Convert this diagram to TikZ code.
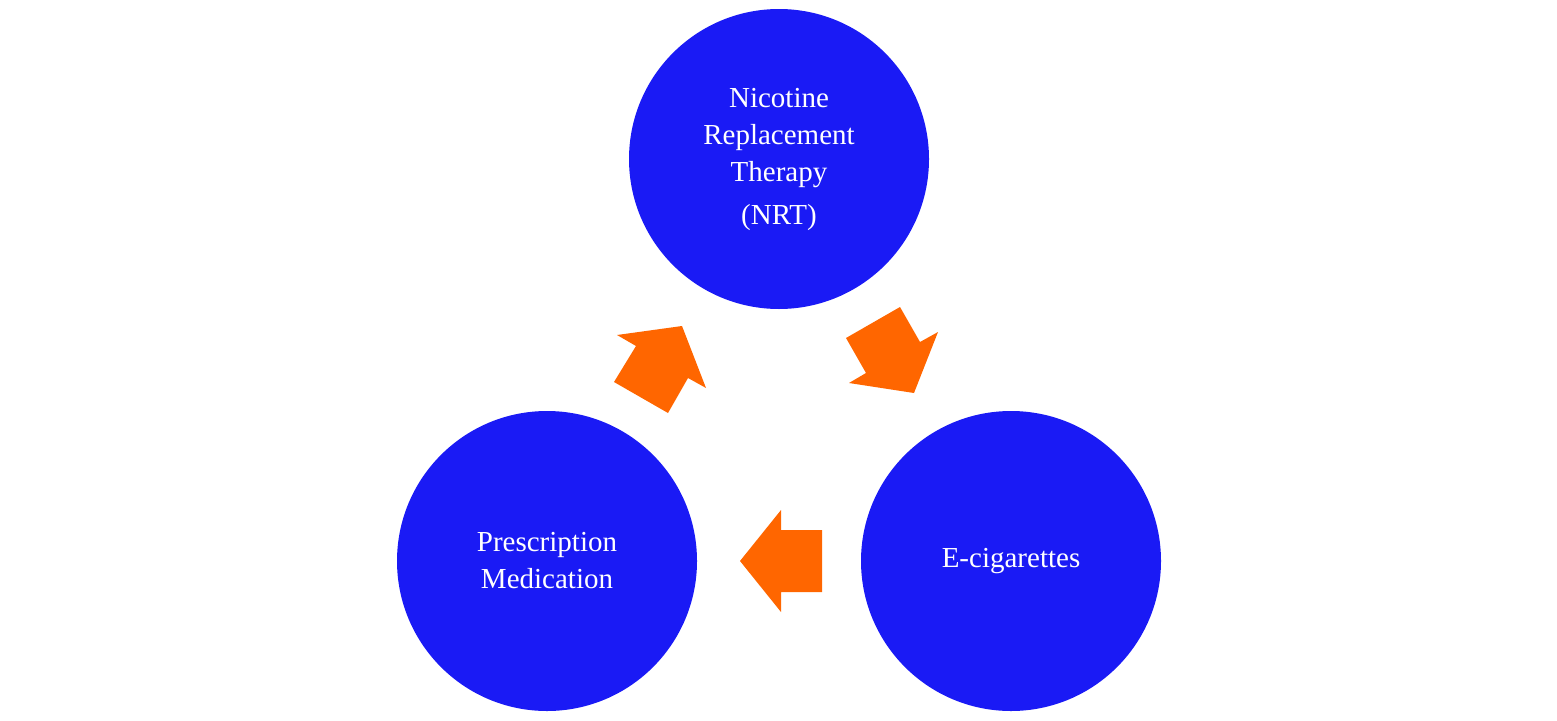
\documentclass[tikz,border=0pt]{standalone}
\usepackage{fontspec}
\setmainfont{Liberation Serif}
\definecolor{cblue}{HTML}{1A1AF5}
\definecolor{corange}{HTML}{FF6600}
\begin{document}
\begin{tikzpicture}[x=1pt,y=-1pt,
  circ/.style={circle,fill=cblue,minimum size=300pt,inner sep=0pt,text=white,align=center,font=\fontsize{29}{37}\selectfont},
  arr/.style={fill=corange,draw=none}]
\useasboundingbox (0,0) rectangle (1557,720);
\node[circ] (nrt) at (779,159) {Nicotine\\Replacement\\Therapy\\[6pt](NRT)};
\node[circ] (rx) at (547,561) {Prescription\\Medication};
\node[circ] (ec) at (1011,561) {E-cigarettes};
\fill[arr] (846,338)--(900,307)--(920,342)--(938,332)--(914,393)--(849,383)--(866,373)--cycle;
\fill[arr] (822,530)--(781,530)--(781,510)--(740,561)--(781,612)--(781,592)--(822,592)--cycle;
\fill[arr] (614,382)--(668,413)--(688,378)--(706,388)--(682,326)--(617,335)--(636,346)--cycle;
\end{tikzpicture}
\end{document}
